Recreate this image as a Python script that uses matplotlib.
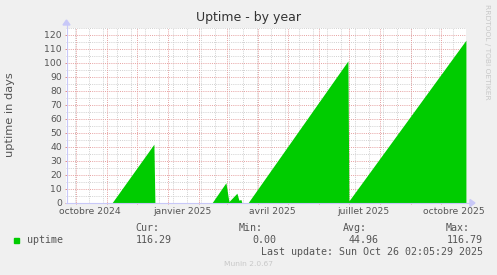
import numpy as np
import matplotlib
matplotlib.use('Agg')
import matplotlib.pyplot as plt
from matplotlib.patches import Rectangle

# uptime samples (date, days)
dates = np.array(['2024-09-21', '2024-11-06', '2024-12-18', '2024-12-19',
                  '2025-02-14', '2025-02-28', '2025-03-03', '2025-03-11',
                  '2025-03-13', '2025-03-15', '2025-03-16', '2025-03-22',
                  '2025-06-30', '2025-07-01', '2025-10-26'], dtype='datetime64[h]')
uptime = np.array([0, 0, 42, 0,
                   0, 14.5, 1, 7,
                   2, 2.5, 0, 0,
                   101.5, 1.5, 116.29])

label_dates = np.array(['2024-10-15', '2025-01-15', '2025-04-15', '2025-07-15', '2025-10-14'],
                       dtype='datetime64[h]')
label_text = ['octobre 2024', 'janvier 2025', 'avril 2025', 'juillet 2025', 'octobre 2025']
y_ticks = np.arange(0, 121, 10)

legend_cols = ['Cur:', 'Min:', 'Avg:', 'Max:']
legend_vals = ['116.29', '0.00', '44.96', '116.79']

end = np.datetime64('2025-10-26T02:05')
start = end - np.timedelta64(400, 'D')

bg = '#F0F0F0'
txt = '#555555'
axis_col = '#C8C8F8'

fig = plt.figure(figsize=(4.97, 2.75), dpi=100, facecolor=bg)
W, H = 497, 275
ax = fig.add_axes([66 / W, (H - 203) / H, 400 / W, 175 / H])
ax.set_facecolor('white')
ax.set_xlim(start, end)
ax.set_ylim(0, 125)

# grid
months = np.arange(np.datetime64('2024-10'), np.datetime64('2025-11'), dtype='datetime64[M]').astype('datetime64[h]')
weeks = np.arange(np.datetime64('2024-09-30'), np.datetime64('2025-10-27'), 14).astype('datetime64[h]')
for d in weeks:
    ax.axvline(d, color='#D0D0D0', lw=0.7, ls=(0, (1, 1.2)), zorder=0)
for v in np.arange(5, 126, 10):
    ax.axhline(v, color='#D0D0D0', lw=0.7, ls=(0, (1, 1.2)), zorder=0)
for d in months:
    ax.axvline(d, color='#E6A0A0', lw=0.7, ls=(0, (1, 1.2)), zorder=0)
for v in y_ticks[1:]:
    ax.axhline(v, color='#E6A0A0', lw=0.7, ls=(0, (1, 1.2)), zorder=0)

ax.fill_between(dates, uptime, 0, color='#00CC00', lw=0, zorder=2)

for s in ax.spines.values():
    s.set_visible(False)

ax.set_xticks(label_dates)
ax.set_xticklabels(label_text)
ax.set_xticks(months, minor=True)
ax.tick_params(axis='x', which='major', length=0, pad=3, labelsize=6.7, labelcolor=txt)
ax.tick_params(axis='x', which='minor', length=2, direction='inout', color='#E08080', width=0.6)
ax.set_yticks(y_ticks)
ax.tick_params(axis='y', length=2, direction='inout', color='#E08080', width=0.6,
               pad=2, labelsize=6.7, labelcolor=txt)

# axis lines with arrows
fig.add_artist(plt.Line2D([66 / W, 471 / W], [(H - 203) / H] * 2, color=axis_col, lw=0.8))
fig.add_artist(plt.Line2D([66.5 / W] * 2, [(H - 203) / H, (H - 24) / H], color=axis_col, lw=0.8))
fig.add_artist(plt.Polygon([[470 / W, (H - 199.5) / H], [470 / W, (H - 206.5) / H], [475 / W, (H - 203) / H]],
                           closed=True, color=axis_col, transform=fig.transFigure))
fig.add_artist(plt.Polygon([[63 / W, (H - 25) / H], [70 / W, (H - 25) / H], [66.5 / W, (H - 20) / H]],
                           closed=True, color=axis_col, transform=fig.transFigure))

fig.text(249 / W, 1 - 18 / H, 'Uptime - by year', ha='center', va='center', fontsize=9, color='#333333')
fig.text(10 / W, 1 - 115 / H, 'uptime in days', rotation=90, ha='center', va='center', fontsize=8.2, color=txt)
fig.text(487 / W, 1 - 52 / H, 'RRDTOOL / TOBI OETIKER', rotation=270, ha='center', va='center',
         fontsize=5.4, color='#C8C8C8')

# legend
mono = 'DejaVu Sans Mono'
fig.add_artist(Rectangle((14 / W, 1 - 243 / H), 5 / W, 5 / H, color='#00CC00', transform=fig.transFigure))
fig.text(27 / W, 1 - 240 / H, 'uptime', family=mono, fontsize=7.2, color=txt, va='center')
col_x = [159, 263, 367, 470]
val_x = [172, 276, 379, 483]
for cx, vx, c, v in zip(col_x, val_x, legend_cols, legend_vals):
    fig.text(cx / W, 1 - 228 / H, c, family=mono, fontsize=7.2, color=txt, va='center', ha='right')
    fig.text(vx / W, 1 - 240 / H, v, family=mono, fontsize=7.2, color=txt, va='center', ha='right')
fig.text(483 / W, 1 - 252 / H, 'Last update: Sun Oct 26 02:05:29 2025', family=mono, fontsize=7.2,
         color=txt, va='center', ha='right')
fig.text(248 / W, 1 - 264 / H, 'Munin 2.0.67', fontsize=5.4, color='#C8C8C8', ha='center', va='center')

fig.savefig('out.png', dpi=100, facecolor=bg)
